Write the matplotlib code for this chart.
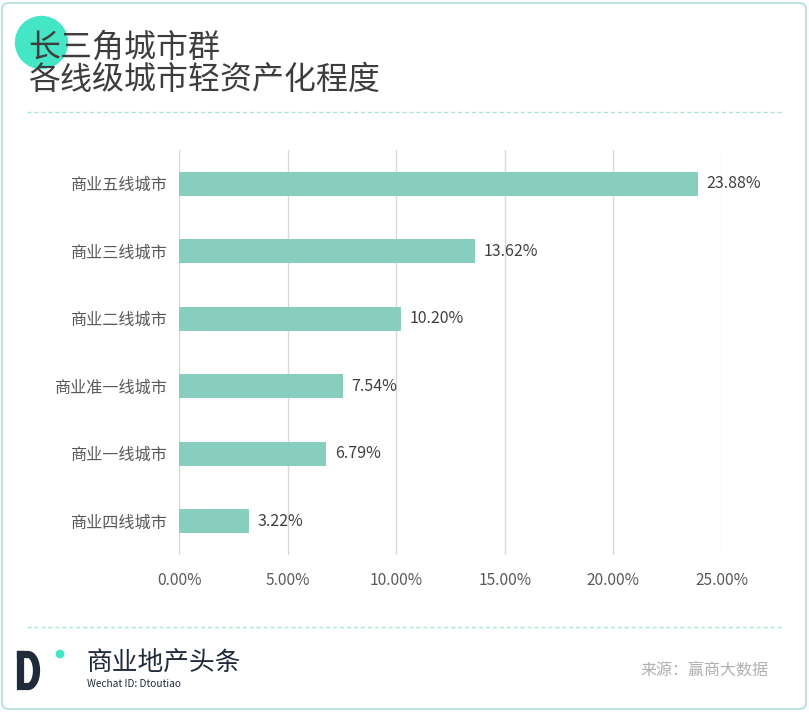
import numpy as np
import matplotlib.pyplot as plt
from matplotlib.patches import Circle, FancyBboxPatch
from matplotlib.lines import Line2D

plt.rcParams['font.family'] = ['Noto Sans CJK SC', 'DejaVu Sans']

# data
cities = ["商业五线城市", "商业三线城市", "商业二线城市", "商业准一线城市", "商业一线城市", "商业四线城市"]
values = [23.88, 13.62, 10.20, 7.54, 6.79, 3.22]
xticks = [0, 5, 10, 15, 20, 25]

W, H = 809, 713
fig = plt.figure(figsize=(W / 100, H / 100), dpi=100)
px = fig.dpi_scale_trans  # inches; 1 px = 0.01 in


def fx(p):
    return p / W


def fy(p):
    return 1 - p / H


# frame
fig.patches.append(FancyBboxPatch((fx(2), fy(709)), fx(804), 706 / H,
                                  boxstyle="round,pad=0,rounding_size=0.008",
                                  transform=fig.transFigure, fill=False,
                                  edgecolor="#bfe3e3", linewidth=1.5))

# title with badge circle
fig.patches.append(Circle((41.5 / 100, (H - 42.5) / 100), 0.26, transform=px,
                          color="#44e6c6", zorder=0))
fig.text(fx(28), fy(48), "长三角城市群", fontsize=23, color="#3d3d3d", va="center")
fig.text(fx(28), fy(80), "各线级城市轻资产化程度", fontsize=23, color="#3d3d3d", va="center")

# dashed separators
for yy in (112, 627):
    fig.add_artist(Line2D([fx(27), fx(783)], [fy(yy), fy(yy)], transform=fig.transFigure,
                          color="#a8e6dc", linewidth=1, linestyle=(0, (3, 2))))

# chart
ax = fig.add_axes([fx(179), fy(555), fx(722) - fx(179), fy(150) - fy(555)])
pos = range(len(cities))
ax.barh(pos, values, height=0.35, color="#88cebf", zorder=2)
for i, v in zip(pos, values):
    ax.text(v + 0.4, i, f"{v:.2f}%", va="center", ha="left", fontsize=11.5, color="#404040")
ax.set_xlim(0, 25)
ax.set_ylim(len(cities) - 0.5, -0.5)
ax.set_xticks(xticks)
ax.set_xticklabels([f"{t:.2f}%" for t in xticks], fontsize=11.2, color="#595959")
ax.set_yticks(list(pos))
ax.set_yticklabels(cities, fontsize=11.6, color="#595959")
ax.tick_params(axis="both", length=0)
ax.tick_params(axis="y", pad=8.5)
ax.tick_params(axis="x", pad=12)
ax.grid(axis="x", color="#d9d9d9", linewidth=1, zorder=0)
ax.set_axisbelow(True)
for s in ax.spines.values():
    s.set_visible(False)

# footer logo: a thick "D" outline
t = np.linspace(np.pi / 2, -np.pi / 2, 40)
dx = np.concatenate([[20.5, 28], 28 + 8.5 * np.cos(t), [28, 20.5, 20.5]])
dy = np.concatenate([[654.5, 654.5], 670.5 + 16 * np.sin(t) * -1, [686.5, 686.5, 654.5]])
fig.add_artist(Line2D(dx / 100, (H - dy) / 100, transform=px, color="#1f2a3a",
                      linewidth=5.2, solid_joinstyle="miter"))
fig.patches.append(Circle((60 / 100, (H - 654) / 100), 0.037, transform=px, color="#44e6c6"))
fig.text(fx(86), fy(664), "商业地产头条", fontsize=18.5, fontweight="light", color="#1f2a3a", va="center")
fig.text(fx(87), fy(684), "Wechat ID: Dtoutiao", fontsize=7.3, color="#1f2a3a", va="center")
fig.text(fx(768), fy(670), "来源：赢商大数据", fontsize=11.5, color="#b0b0b0", va="center", ha="right")

fig.savefig("out.png", dpi=100)
